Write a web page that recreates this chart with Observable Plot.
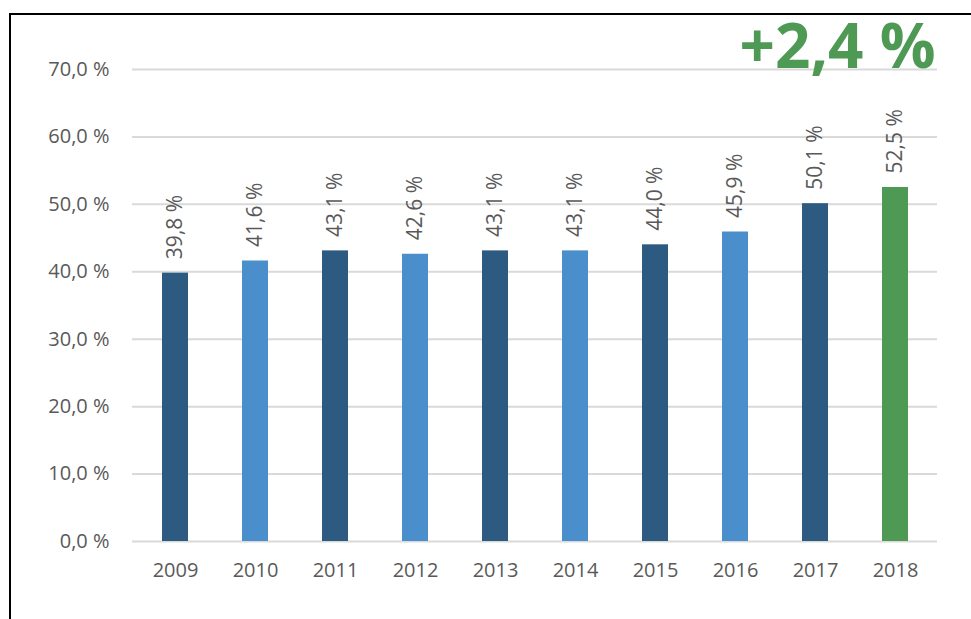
<!DOCTYPE html>
<html>
<head>
<meta charset="utf-8">
<script src="https://cdn.jsdelivr.net/npm/d3@7"></script>
<script src="https://cdn.jsdelivr.net/npm/@observablehq/plot@0.6"></script>
<style>
  html, body { margin: 0; padding: 0; background: #fff; }
  #wrap { position: relative; width: 971px; height: 619px; overflow: hidden; }
  #frame { position: absolute; left: 9px; top: 13px; right: -10px; bottom: -10px;
           border-left: 2px solid #000; border-top: 2px solid #000; }
  #chart { position: absolute; left: 0; top: 0; }
</style>
</head>
<body>
<div id="wrap"><div id="frame"></div><div id="chart"></div></div>
<script>
const years = ["2009","2010","2011","2012","2013","2014","2015","2016","2017","2018"];
const shares = [39.8, 41.6, 43.1, 42.6, 43.1, 43.1, 44.0, 45.9, 50.1, 52.5];
const yTicks = [0, 10, 20, 30, 40, 50, 60, 70];
const growthLabel = "+2,4 %";

const DARK = "#2D5A80", LIGHT = "#4A8ECC", GREEN = "#4E9A54", TEXT = "#595959";
const fmt = v => v.toFixed(1).replace(".", ",") + " %";
const data = years.map((y, i) => ({year: y, value: shares[i], i}));
const barFill = d => d.i === years.length - 1 ? GREEN : (d.i % 2 ? LIGHT : DARK);

const chart = Plot.plot({
  width: 971,
  height: 619,
  marginLeft: 132,
  marginRight: 34,
  marginTop: 69,
  marginBottom: 78,
  style: {fontFamily: "'Open Sans', sans-serif", fontSize: "20px", color: TEXT, background: "transparent"},
  x: {domain: years, paddingInner: 0.68, paddingOuter: 0.34, label: null, tickSize: 0, tickPadding: 21},
  y: {domain: [0, 70], ticks: yTicks, label: null, tickSize: 0, tickPadding: 23, tickFormat: fmt},
  marks: [
    Plot.gridY(yTicks, {stroke: "#d9d9d9", strokeOpacity: 1, strokeWidth: 2}),
    Plot.barY(data, {x: "year", y: "value", fill: barFill}),
    Plot.text(data, {x: "year", y: "value", text: d => fmt(d.value), rotate: -90,
      textAnchor: "start", dy: -14, fill: TEXT, fontSize: 21}),
    Plot.text([growthLabel], {frameAnchor: "top-right", text: d => d, textAnchor: "end",
      lineAnchor: "bottom", dx: -2, dy: -2, fill: GREEN, fontSize: 62, fontWeight: "bold"})
  ]
});
document.getElementById("chart").appendChild(chart);
</script>
</body>
</html>
